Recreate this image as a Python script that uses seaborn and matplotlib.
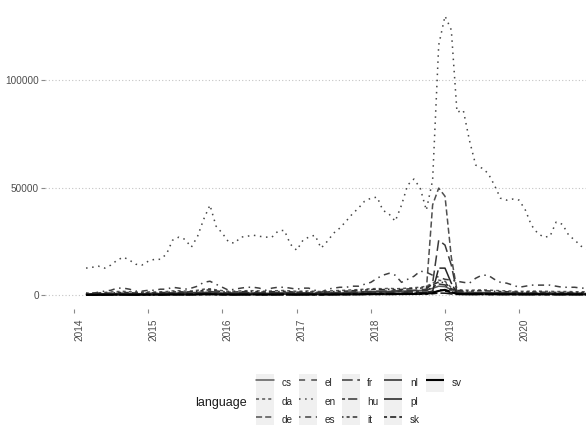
import matplotlib
matplotlib.use("Agg")
import matplotlib.pyplot as plt
import numpy as np
import pandas as pd
import seaborn as sns
from matplotlib.legend_handler import HandlerLine2D
from matplotlib.lines import Line2D
from matplotlib.patches import Patch, Rectangle

# ---- data: monthly page views per language edition ----
dates = pd.date_range("2014-03-01", periods=82, freq="MS")

languages = ["cs", "da", "de", "el", "en", "es", "fr", "hu", "it", "nl", "pl", "sk", "sv"]

cs = [500, 600, 600, 700, 700, 800, 800, 700, 700, 700, 800,
      800, 800, 900, 1000, 1000, 900, 1000, 1100, 1300, 1400, 1200, 1000,
      900, 900, 1000, 1000, 1000, 900, 900, 1000, 1000, 1100, 1000, 900,
      1000, 1000, 900, 900, 1000, 1100, 1100, 1200, 1300, 1400, 1500, 1600,
      1700, 1700, 1800, 1800, 1900, 2000, 2100, 2200, 2400, 3200, 4200, 4000,
      2600, 1500, 1300, 1200, 1200, 1200, 1100, 1100, 1000, 1000, 1000, 900,
      900, 900, 900, 900, 900, 800, 800, 800, 800, 800, 800]

da = [900, 1000, 1100, 1300, 1500, 1700, 1800, 1600, 1400, 1400, 1500,
      1500, 1600, 1700, 2000, 2100, 1900, 2000, 2300, 2800, 3000, 2500, 2100,
      1800, 1900, 2000, 2100, 2100, 2000, 1800, 2000, 2100, 2200, 2000, 1800,
      1900, 2000, 1800, 1700, 1900, 2100, 2200, 2300, 2500, 2600, 2800, 3000,
      3100, 3000, 3200, 3000, 3100, 3300, 3500, 3700, 4200, 5600, 7000, 6500,
      3500, 2600, 2400, 2300, 2400, 2500, 2400, 2200, 2100, 2000, 1900, 1800,
      1800, 1900, 1900, 1800, 1800, 1700, 1700, 1700, 1600, 1600, 1600]

de = [400, 500, 500, 600, 600, 700, 700, 600, 600, 600, 700,
      700, 700, 800, 900, 900, 800, 900, 1000, 1200, 1300, 1100, 900,
      800, 800, 900, 900, 900, 800, 800, 900, 900, 1000, 900, 800,
      900, 900, 800, 800, 900, 1000, 1000, 1100, 1200, 1300, 1400, 1500,
      1600, 1600, 1700, 1700, 1800, 1900, 2000, 2100, 2300, 42000, 49800, 46000,
      17700, 2300, 1500, 1300, 1200, 1200, 1100, 1100, 1000, 1000, 1000, 900,
      900, 900, 900, 900, 800, 800, 800, 800, 800, 800, 800]

el = [200, 200, 250, 250, 300, 300, 300, 300, 300, 300, 300,
      300, 300, 350, 400, 400, 350, 400, 450, 500, 550, 450, 400,
      350, 350, 400, 400, 400, 350, 350, 400, 400, 450, 400, 350,
      400, 400, 350, 350, 400, 450, 450, 500, 500, 550, 600, 650,
      700, 650, 700, 700, 750, 800, 850, 900, 1000, 1800, 2600, 2400,
      1200, 800, 700, 700, 650, 650, 600, 600, 600, 550, 550, 500,
      500, 500, 500, 500, 500, 450, 450, 450, 450, 450, 450]

en = [12600, 13000, 13500, 12600, 14000, 16300, 17700, 16300, 14400, 14000, 15800,
      16700, 16700, 19100, 25600, 27000, 26000, 22300, 27400, 35300, 41900, 32100, 28800,
      24700, 24200, 27000, 27400, 27900, 27400, 27000, 27000, 29800, 30200, 23700, 20900,
      25600, 27000, 27900, 21900, 25100, 28800, 31200, 34400, 37700, 40500, 43700, 45100,
      45600, 39500, 37700, 34400, 41900, 51200, 54000, 49800, 39500, 53500, 116300, 129800,
      123300, 85100, 86000, 72100, 60500, 59100, 56700, 51200, 45100, 44200, 44700, 44200,
      39500, 32600, 28800, 27000, 27400, 34000, 33000, 27900, 25600, 22800, 21400]

es = [1000, 900, 1400, 1900, 2300, 3300, 3300, 2800, 1900, 1900, 2300,
      2300, 2800, 2800, 3700, 3300, 2800, 3300, 4200, 6000, 6500, 5100, 3700,
      2300, 2800, 3300, 3700, 3700, 3300, 2300, 3300, 3700, 3700, 3300, 2800,
      3300, 3300, 2300, 1400, 2800, 3300, 3700, 3700, 4200, 4200, 5100, 6000,
      7900, 9300, 10200, 9300, 6000, 7400, 8800, 11200, 10700, 9300, 8400, 7400,
      7000, 6500, 6000, 5600, 7900, 9300, 9300, 7400, 6000, 5600, 4700, 3700,
      4200, 4700, 4700, 4700, 4700, 4200, 3700, 3700, 3700, 3300, 3300]

fr = [500, 600, 600, 700, 800, 900, 900, 800, 700, 700, 800,
      800, 900, 1000, 1100, 1200, 1100, 1200, 1300, 1600, 1800, 1400, 1200,
      1000, 1100, 1200, 1200, 1200, 1100, 1000, 1100, 1200, 1300, 1200, 1000,
      1100, 1100, 1000, 1000, 1100, 1200, 1300, 1400, 1500, 1600, 1700, 1800,
      1900, 1900, 2000, 2000, 2100, 2200, 2300, 2500, 2800, 5600, 25600, 23300,
      14000, 1400, 1300, 1300, 1200, 1200, 1200, 1100, 1100, 1100, 1000, 1000,
      1000, 1000, 1000, 900, 900, 900, 900, 900, 900, 900, 900]

hu = [300, 400, 400, 500, 500, 600, 600, 500, 500, 500, 600,
      600, 600, 700, 800, 800, 700, 800, 900, 1100, 1200, 1000, 800,
      700, 700, 800, 800, 800, 700, 700, 800, 800, 900, 800, 700,
      800, 800, 700, 700, 800, 900, 900, 1000, 1100, 1200, 1300, 1400,
      1500, 1400, 1500, 1500, 1600, 1700, 1800, 1900, 2100, 3800, 5200, 4800,
      2200, 1300, 1200, 1100, 1100, 1100, 1000, 1000, 900, 900, 900, 800,
      800, 800, 800, 800, 800, 700, 700, 700, 700, 700, 700]

it = [600, 700, 800, 900, 1000, 1200, 1300, 1200, 1000, 1000, 1100,
      1100, 1200, 1300, 1500, 1600, 1500, 1600, 1800, 2300, 2500, 2000, 1700,
      1400, 1500, 1600, 1700, 1700, 1600, 1400, 1600, 1700, 1800, 1600, 1400,
      1500, 1600, 1400, 1300, 1500, 1700, 1800, 1900, 2100, 2200, 2400, 2600,
      2700, 2600, 2800, 2600, 2700, 2900, 3100, 3300, 3600, 4800, 6200, 5800,
      3000, 2200, 2000, 1900, 2000, 2100, 2000, 1800, 1700, 1600, 1500, 1400,
      1400, 1500, 1500, 1400, 1400, 1300, 1300, 1300, 1200, 1200, 1200]

nl = [300, 300, 350, 400, 400, 450, 450, 400, 400, 400, 450,
      450, 450, 500, 550, 550, 500, 550, 600, 700, 750, 650, 550,
      500, 500, 550, 550, 550, 500, 500, 550, 550, 600, 550, 500,
      550, 550, 500, 500, 550, 600, 600, 650, 700, 750, 800, 850,
      900, 900, 950, 950, 1000, 1050, 1100, 1200, 1400, 1900, 12600, 12600,
      5600, 900, 800, 750, 750, 750, 700, 700, 650, 650, 650, 600,
      600, 600, 600, 600, 600, 550, 550, 550, 550, 550, 550]

pl = [200, 250, 250, 300, 300, 350, 350, 300, 300, 300, 350,
      350, 350, 400, 450, 450, 400, 450, 500, 600, 650, 550, 450,
      400, 400, 450, 450, 450, 400, 400, 450, 450, 500, 450, 400,
      450, 450, 400, 400, 450, 500, 500, 550, 600, 650, 700, 750,
      800, 800, 850, 850, 900, 950, 1000, 1050, 1150, 1500, 2000, 1900,
      1200, 750, 700, 650, 650, 650, 600, 600, 600, 550, 550, 500,
      500, 500, 500, 500, 500, 450, 450, 450, 450, 450, 450]

sk = [100, 120, 130, 150, 150, 170, 180, 160, 150, 150, 160,
      170, 170, 190, 210, 220, 200, 210, 230, 270, 300, 250, 220,
      200, 200, 220, 220, 220, 200, 190, 210, 220, 240, 220, 200,
      220, 220, 200, 200, 220, 240, 250, 270, 290, 310, 330, 350,
      370, 360, 380, 380, 400, 420, 440, 470, 520, 700, 1000, 950,
      600, 380, 350, 330, 330, 330, 310, 300, 300, 290, 280, 270,
      270, 270, 270, 260, 260, 250, 250, 250, 250, 250, 250]

sv = [150, 180, 200, 220, 230, 250, 260, 240, 230, 230, 240,
      250, 250, 280, 300, 320, 300, 310, 340, 400, 430, 360, 320,
      300, 300, 320, 320, 320, 300, 290, 310, 320, 350, 320, 300,
      320, 320, 300, 300, 320, 350, 360, 390, 420, 450, 480, 510,
      540, 530, 550, 560, 580, 600, 640, 680, 750, 1000, 2000, 2500,
      1500, 600, 520, 500, 490, 490, 470, 460, 450, 440, 430, 420,
      410, 410, 410, 400, 400, 390, 390, 390, 380, 380, 380]

year_ticks = ["2014", "2015", "2016", "2017", "2018", "2019", "2020"]
y_ticks = [0, 50000, 100000]
y_tick_labels = ["0", "50000", "100000"]

views = {"cs": cs, "da": da, "de": de, "el": el, "en": en, "es": es, "fr": fr,
         "hu": hu, "it": it, "nl": nl, "pl": pl, "sk": sk, "sv": sv}

df = pd.concat(
    [pd.DataFrame({"date": dates, "views": views[lang], "language": lang}) for lang in languages],
    ignore_index=True,
)

# ---- styling ----
line_types = {
    "cs": "-",
    "da": (0, (2, 2)),
    "de": (0, (4, 2)),
    "el": (0, (4, 4)),
    "en": (0, (1, 3)),
    "es": (0, (1, 3, 4, 3)),
    "fr": (0, (7, 3)),
    "hu": (0, (2, 2, 6, 2)),
    "it": (0, (1, 2, 2, 2, 3, 2, 4, 2)),
    "nl": (0, (15, 2, 8, 2)),
    "pl": (0, (15, 4, 4, 4, 8, 4, 4, 4)),
    "sk": (0, (2, 2, 4, 2, 8, 2, 15, 2)),
    "sv": (0, (15, 1)),
}
line_colors = {
    "cs": "#5a5a5a", "da": "#555555", "de": "#505050", "el": "#4b4b4b",
    "en": "#464646", "es": "#404040", "fr": "#3a3a3a", "hu": "#343434",
    "it": "#2e2e2e", "nl": "#262626", "pl": "#1c1c1c", "sk": "#101010",
    "sv": "#000000",
}

sns.set_theme(style="white")
plt.rcParams["font.family"] = ["Liberation Sans", "DejaVu Sans"]

W, H = 586, 425
fig = plt.figure(figsize=(W / 100, H / 100), dpi=100)
ax = fig.add_axes([45 / W, 1 - 309 / H, 1 - 45 / W, (309 - 2) / H])

handles = []
for lang in languages:
    sub = df[df["language"] == lang]
    sns.lineplot(data=sub, x="date", y="views", color=line_colors[lang],
                 linewidth=1.5 if lang == "sv" else 1.1,
                 linestyle=line_types[lang], errorbar=None, legend=False, ax=ax)
    line = ax.lines[-1]
    line.set_label(lang)
    handles.append(line)

if ax.get_legend() is not None:
    ax.get_legend().remove()


def decimal_year(value):
    year = int(np.floor(value))
    start = pd.Timestamp(f"{year}-01-01")
    return start + (pd.Timestamp(f"{year + 1}-01-01") - start) * (value - year)


ax.set_xlim(decimal_year(2013.608), decimal_year(2020.899))
ax.set_ylim(-6400, 136300)

ax.set_xticks([pd.Timestamp(f"{y}-01-01") for y in year_ticks])
ax.set_xticklabels(year_ticks)
ax.set_yticks(y_ticks)
ax.set_yticklabels(y_tick_labels)
ax.set_xlabel("")
ax.set_ylabel("")

for s in ax.spines.values():
    s.set_visible(False)
ax.grid(False)
ax.yaxis.grid(True, color="#c4c4c4", linestyle=(0, (1, 2)), linewidth=0.8)
ax.set_axisbelow(True)
ax.tick_params(axis="both", bottom=True, left=True, length=3, width=0.8,
               color="#8a8a8a", labelsize=7.2, labelcolor="#4d4d4d", pad=1.5)
ax.tick_params(axis="x", pad=4)
for lab in ax.get_xticklabels():
    lab.set_rotation(90)
    lab.set_horizontalalignment("left")
    lab.set_verticalalignment("top")


class KeyHandler(HandlerLine2D):
    """Legend key with a light grey background square behind the line."""

    def create_artists(self, legend, orig_handle, xdescent, ydescent,
                       width, height, fontsize, trans):
        bg = Rectangle((-xdescent, -ydescent), width, height,
                       facecolor="#f0f0f0", edgecolor="none", transform=trans)
        arts = super().create_artists(legend, orig_handle, xdescent, ydescent,
                                      width, height, fontsize, trans)
        return [bg] + list(arts)


blank = Patch(facecolor="none", edgecolor="none")
leg = fig.legend(handles + [blank, blank], languages + ["", ""], ncol=5,
                 loc="upper left", bbox_to_anchor=(256 / W, 1 - 374 / H),
                 frameon=False, fontsize=7.2, handlelength=1.8, handleheight=2.46,
                 handletextpad=0.75, columnspacing=0.62, labelspacing=0,
                 borderpad=0, borderaxespad=0,
                 handler_map={Line2D: KeyHandler()})
fig.text(195 / W, 1 - 403 / H, "language", fontsize=9, ha="left", va="center",
         color="#1a1a1a")

fig.savefig("out.png", dpi=100)
